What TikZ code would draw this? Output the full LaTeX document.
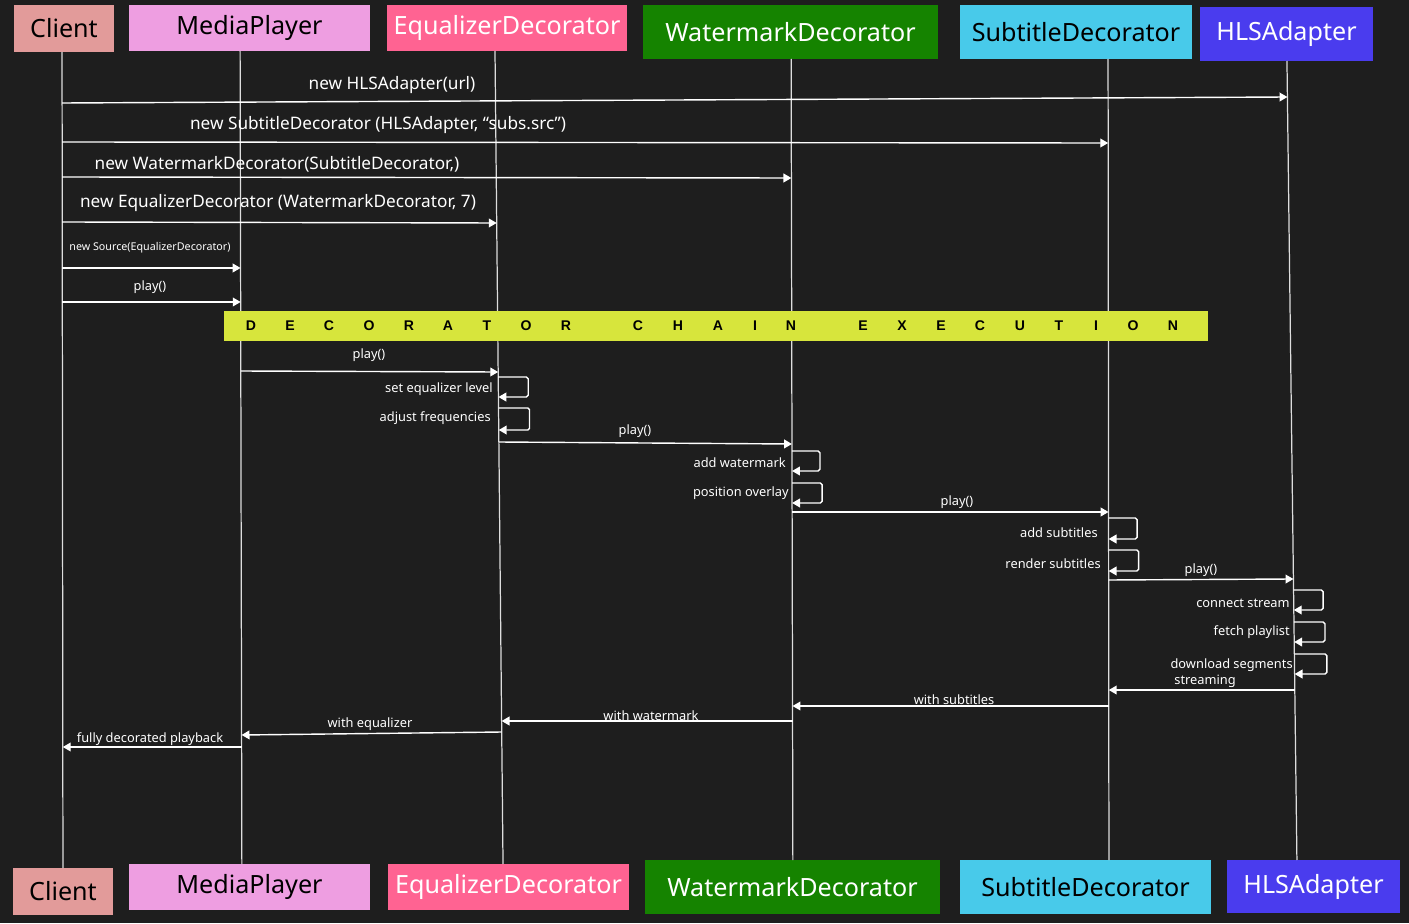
\documentclass[tikz,border=0pt]{standalone}
\usepackage{fontspec}
\setmainfont{Noto Sans}
\newfontfamily\bannerfont{Liberation Sans}
\usetikzlibrary{arrows.meta,calc}

\definecolor{bgc}{HTML}{1E1E1E}
\definecolor{clientc}{HTML}{E29B9A}
\definecolor{playerc}{HTML}{EE9EE1}
\definecolor{equalc}{HTML}{FF6392}
\definecolor{waterc}{HTML}{158300}
\definecolor{subc}{HTML}{48CAEA}
\definecolor{hlsc}{HTML}{4A3CEE}
\definecolor{bannerc}{HTML}{D7E53C}
\definecolor{linec}{HTML}{DDDDDD}

% point on a lifeline at height #2 (pixels from top)
\newcommand{\onl}[2]{($(#1-t)!{#2/923}!(#1-b)$)}

\begin{document}
\begin{tikzpicture}[x=0.02cm, y=-0.02cm,
  actor/.style={fill=#1, inner sep=0pt, font=\fontsize{14.3}{17}\selectfont},
  life/.style={draw=linec, line width=0.7pt},
  msg/.style={draw=white, line width=0.8pt, -{Triangle[length=4.5pt,width=5pt]}},
  loopmsg/.style={msg, rounded corners=1pt},
  lbl/.style={text=white, inner sep=0pt, font=\fontsize{7.3}{9}\selectfont},
  biglbl/.style={lbl, font=\fontsize{9.8}{12}\selectfont},
  tinylbl/.style={lbl, font=\fontsize{6.1}{8}\selectfont},
  banner/.style={fill=bannerc, inner sep=0pt, minimum width=19.68cm, minimum height=0.6cm},
  bannertxt/.style={inner sep=0pt, font=\bannerfont\bfseries\fontsize{8}{9}\selectfont}
]
\fill[bgc] (0,0) rectangle (1409,923);

% lifeline guides
\coordinate (cl-t) at (62,0);     \coordinate (cl-b) at (63,923);
\coordinate (mp-t) at (240,0);    \coordinate (mp-b) at (242,923);
\coordinate (eq-t) at (494.5,0);  \coordinate (eq-b) at (503.6,923);
\coordinate (wm-t) at (791,0);    \coordinate (wm-b) at (793,923);
\coordinate (st-t) at (1108,0);   \coordinate (st-b) at (1109,923);
\coordinate (hl-t) at (1286.2,0); \coordinate (hl-b) at (1297.7,923);

% actors, top
\node[actor=clientc, minimum width=2cm, minimum height=0.94cm] (clT) at (64,28.5) {Client};
\node[actor=playerc, minimum width=4.82cm, minimum height=0.92cm] (mpT) at (249.5,28) {MediaPlayer};
\node[actor=equalc, text=white, minimum width=4.8cm, minimum height=0.92cm] (eqT) at (507,28) {EqualizerDecorator};
\node[actor=waterc, text=white, minimum width=5.9cm, minimum height=1.08cm] (wmT) at (790.5,32) {WatermarkDecorator};
\node[actor=subc, minimum width=4.64cm, minimum height=1.08cm] (stT) at (1076,32) {SubtitleDecorator};
\node[actor=hlsc, text=white, minimum width=3.46cm, minimum height=1.08cm] (hlT) at (1286.5,34) {HLSAdapter};

% actors, bottom
\node[actor=clientc, minimum width=2cm, minimum height=0.94cm] (clB) at (63,891.5) {Client};
\node[actor=playerc, minimum width=4.82cm, minimum height=0.92cm] (mpB) at (249.5,887) {MediaPlayer};
\node[actor=equalc, text=white, minimum width=4.82cm, minimum height=0.92cm] (eqB) at (508.5,887) {EqualizerDecorator};
\node[actor=waterc, text=white, minimum width=5.9cm, minimum height=1.08cm] (wmB) at (792.5,887) {WatermarkDecorator};
\node[actor=subc, minimum width=5.02cm, minimum height=1.08cm] (stB) at (1085.5,887) {SubtitleDecorator};
\node[actor=hlsc, text=white, minimum width=3.46cm, minimum height=1.06cm] (hlB) at (1313.5,886.5) {HLSAdapter};

% lifelines
\foreach \a/\ya/\yb in {cl/52/868, mp/51/864, eq/51/864, wm/59/860, st/59/860, hl/61/860}
  \draw[life] \onl{\a}{\ya} -- \onl{\a}{\yb};

% messages
\foreach \a/\ya/\b/\yb in {cl/103/hl/97, cl/142/st/143, cl/177/wm/178, cl/222/eq/223,
    cl/268/mp/268, cl/302/mp/302, mp/371/eq/372, eq/442/wm/444, wm/512/st/512,
    st/580/hl/579, hl/690/st/690, st/706/wm/706, wm/721/eq/721, eq/732/mp/735, mp/747/cl/747}
  \draw[msg] \onl{\a}{\ya} -- \onl{\b}{\yb};

% self calls
\foreach \a/\ya/\yb/\w in {eq/377/397/30, eq/408/430/31, wm/451/471/28, wm/483/503/30,
    st/518/539/28.5, st/550/571/30, hl/590/610/29.5, hl/622/642/31, hl/654/674/32.5}
  \draw[loopmsg] \onl{\a}{\ya} -- ++(\w,0) |- \onl{\a}{\yb};

% labels
\node[biglbl] (m1) at (392,85) {new HLSAdapter(url)};
\node[biglbl] (m2) at (378,125) {new SubtitleDecorator (HLSAdapter, “subs.src”)};
\node[biglbl] (m3) at (277,164) {new WatermarkDecorator(SubtitleDecorator,)};
\node[biglbl] (m4) at (278,203) {new EqualizerDecorator (WatermarkDecorator, 7)};
\node[tinylbl] (m5) at (150,248) {new Source(EqualizerDecorator)};
\node[lbl] (m6) at (150,287.5) {play()};
\node[lbl] (m7) at (369,355.5) {play()};
\node[lbl, anchor=east] (s1) at (493,389.5) {set equalizer level};
\node[lbl, anchor=east] (s2) at (491,418.5) {adjust frequencies};
\node[lbl] (m8) at (635,431.5) {play()};
\node[lbl, anchor=east] (s3) at (786,462.5) {add watermark};
\node[lbl, anchor=east] (s4) at (789,493.5) {position overlay};
\node[lbl] (m9) at (957,502.5) {play()};
\node[lbl, anchor=east] (s5) at (1098,532.5) {add subtitles};
\node[lbl, anchor=east] (s6) at (1101,563.5) {render subtitles};
\node[lbl] (m10) at (1201,570.5) {play()};
\node[lbl, anchor=east] (s7) at (1290,603.5) {connect stream};
\node[lbl, anchor=east] (s8) at (1290,632.5) {fetch playlist};
\node[lbl, anchor=east] (s9) at (1293,665.5) {download segments};
\node[lbl, anchor=west] (r1) at (1174,681.5) {streaming};
\node[lbl] (r2) at (954,699.5) {with subtitles};
\node[lbl] (r3) at (651,715.5) {with watermark};
\node[lbl] (r4) at (370,724.5) {with equalizer};
\node[lbl] (r5) at (150,739.5) {fully decorated playback};

% banner over the lifelines
\node[banner] (chain) at (716,326) {};
\foreach \x/\c in {251/D, 290/E, 329/C, 369/O, 409/R, 448/A, 487/T, 526/O, 566/R,
    638/C, 678/H, 718/A, 755/I, 791/N,
    863/E, 902/X, 941/E, 980/C, 1020/U, 1059/T, 1096/I, 1133/O, 1173/N}
  \node[bannertxt] (ch\x) at (\x,326) {\c};
\end{tikzpicture}
\end{document}
